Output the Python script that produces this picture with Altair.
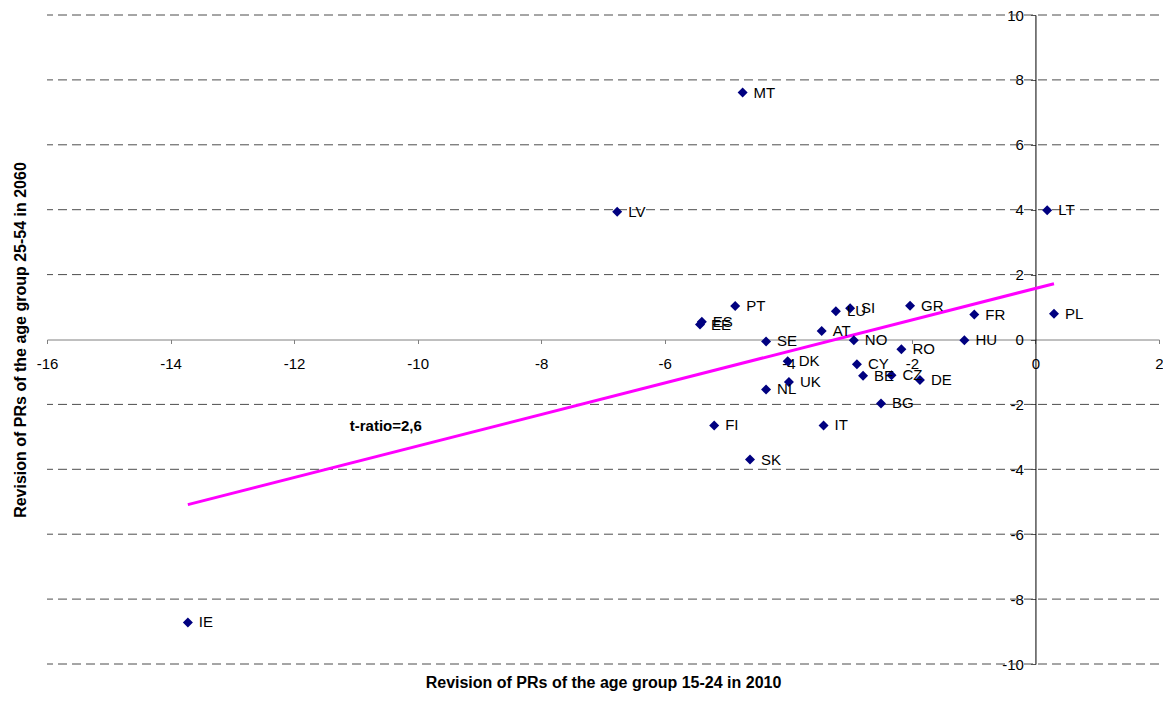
import altair as alt
import pandas as pd

FONT = "Liberation Sans"

countries = ["MT", "LV", "LT", "PT", "ES", "EE", "LU", "SI", "GR", "FR", "PL", "AT", "SE", "NO",
             "HU", "RO", "DK", "CY", "BE", "CZ", "DE", "UK", "NL", "BG", "FI", "IT", "SK", "IE"]
x_vals = [-4.74, -6.77, 0.19, -4.86, -5.40, -5.43, -3.23, -3.00, -2.03, -0.99, 0.30, -3.46, -4.36, -2.94,
          -1.15, -2.17, -4.01, -2.89, -2.79, -2.33, -1.87, -3.99, -4.36, -2.50, -5.20, -3.43, -4.62, -13.72]
y_vals = [7.61, 3.94, 3.98, 1.03, 0.55, 0.46, 0.87, 0.96, 1.04, 0.77, 0.79, 0.26, -0.06, -0.02,
          -0.02, -0.30, -0.67, -0.76, -1.12, -1.10, -1.25, -1.31, -1.54, -1.97, -2.65, -2.65, -3.70, -8.72]

trend_x = [-13.72, 0.30]
trend_y = [-5.09, 1.72]

grid_y = [-10, -8, -6, -4, -2, 2, 4, 6, 8, 10]
x_ticks = [-16, -14, -12, -10, -8, -6, -4, -2, 0, 2]
y_ticks = [-10, -8, -6, -4, -2, 0, 2, 4, 6, 8, 10]

annot_text = ["t-ratio=2,6"]
annot_x = [-11.10]
annot_y = [-2.68]

x_title = "Revision of PRs of the age group 15-24 in 2010"
y_title = "Revision of PRs of the age group 25-54 in 2060"

W, H = 1112, 649
X0 = W * 16 / 18   # pixel position of x = 0 inside the plot
Y0 = H / 2         # pixel position of y = 0 inside the plot

pts = pd.DataFrame({"country": countries, "x": x_vals, "y": y_vals})
trend = pd.DataFrame({"x": trend_x, "y": trend_y})
grid = pd.DataFrame({"y": grid_y})
annot = pd.DataFrame({"t": annot_text, "x": annot_x, "y": annot_y})

x_axis = alt.Axis(orient="bottom", offset=-Y0, values=x_ticks, grid=False,
                  domainColor="#808080", tickColor="#808080", tickSize=4,
                  labelPadding=13, labelFont=FONT, labelFontSize=15, labelColor="black",
                  labelFlush=False, labelOverlap=False, labelExpr="toString(datum.value)",
                  title=x_title, titleFont=FONT, titleFontSize=16, titleFontWeight="bold",
                  titleColor="black", titleY=343, titleBaseline="middle")
y_axis = alt.Axis(orient="left", offset=-X0, values=y_ticks, grid=False,
                  domainColor="black", tickColor="#555555", tickSize=5,
                  labelPadding=7, labelFont=FONT, labelFontSize=15, labelColor="black",
                  labelFlush=False, labelOverlap=False, labelExpr="toString(datum.value)",
                  title=y_title, titleFont=FONT, titleFontSize=16, titleFontWeight="bold",
                  titleColor="black", titleX=-X0 - 27, titleY=H / 2,
                  titleBaseline="middle", titleAngle=270)

xs = alt.Scale(domain=[-16, 2], nice=False, zero=False)
ys = alt.Scale(domain=[-10, 10], nice=False, zero=False)

x_enc = alt.X("x:Q", scale=xs, axis=x_axis)
y_enc = alt.Y("y:Q", scale=ys, axis=y_axis)

grid_layer = alt.Chart(grid).mark_rule(color="#4d4d4d", strokeWidth=1, strokeDash=[9, 5]).encode(y=y_enc)
trend_layer = alt.Chart(trend).mark_line(color="#FF00FF", strokeWidth=3).encode(x=x_enc, y=y_enc)
pt_layer = alt.Chart(pts).mark_point(shape="diamond", filled=True, size=100, color="#000080",
                                     opacity=1).encode(x=x_enc, y=y_enc)
lbl_layer = alt.Chart(pts).mark_text(align="left", baseline="middle", dx=11, font=FONT, fontSize=15,
                                     color="black").encode(x=x_enc, y=y_enc, text="country:N")
annot_layer = alt.Chart(annot).mark_text(align="left", baseline="middle", font=FONT, fontSize=15,
                                         fontWeight="bold", color="black").encode(x=x_enc, y=y_enc, text="t:N")

chart = alt.layer(grid_layer, trend_layer, pt_layer, lbl_layer, annot_layer).properties(
    width=W, height=H,
    autosize=alt.AutoSizeParams(type="none"),
    padding={"left": 39, "top": 7, "right": 4, "bottom": 30},
).configure_view(stroke="transparent")

chart.save("out.html", embed_options={"renderer": "svg", "actions": False})
